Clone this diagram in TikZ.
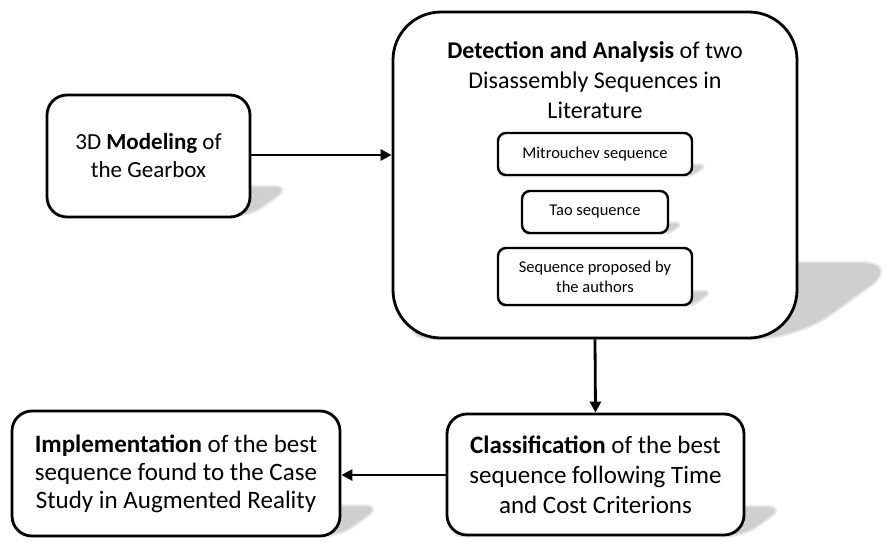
\documentclass[tikz,border=0pt]{standalone}
\usepackage{fontspec}
\setmainfont{Carlito}
\usetikzlibrary{arrows.meta}
\newcommand\pshadow[5]{% L T R B radius
  \fill[gray!38] [rounded corners=#5]
    (#1,#4) -- (#3,#4)
    -- ({#3+0.32*(#4-#2)},{#4-0.23*(#4-#2)})
    -- ({#1+0.32*(#4-#2)},{#4-0.23*(#4-#2)}) -- cycle;
  \draw[gray!38, line width=4pt, opacity=0.5] [rounded corners=#5]
    (#1,#4) -- (#3,#4)
    -- ({#3+0.32*(#4-#2)},{#4-0.23*(#4-#2)})
    -- ({#1+0.32*(#4-#2)},{#4-0.23*(#4-#2)}) -- cycle;
}
\tikzset{
  bigbox/.style={draw=black, line width=2.8pt, fill=white, rounded corners=20pt, inner sep=0pt, align=center, font=\fontsize{24}{29}\selectfont},
  smallbox/.style={draw=black, line width=2.4pt, fill=white, rounded corners=8pt, inner sep=0pt, align=center, font=\fontsize{16.5}{20}\selectfont},
  conn/.style={line width=2.8pt, -{Triangle[length=11pt, width=11pt]}}
}
\begin{document}
\begin{tikzpicture}[x=1pt, y=-1pt]
\useasboundingbox (0,0) rectangle (889,541);
% outer shadows
\pshadow{393}{12}{797}{338}{40pt}
\pshadow{47}{93}{250}{215}{15pt}
\pshadow{447}{414}{744}{535}{15pt}
\pshadow{12}{410}{340}{535}{15pt}
% main boxes
\node[bigbox, font=\fontsize{23}{28}\selectfont, minimum width=203pt, minimum height=122pt] (A) at (148.5,156) {3D \textbf{Modeling} of\\the Gearbox};
\node[bigbox, rounded corners=48pt, minimum width=404pt, minimum height=326pt] (B) at (595,175) {};
\node[align=center, inner sep=0pt, font=\fontsize{24}{30}\selectfont] (Btitle) at (595,80) {\textbf{Detection and Analysis} of two\\Disassembly Sequences in\\Literature};
\node[bigbox, font=\fontsize{25}{30}\selectfont, minimum width=297pt, minimum height=121pt] (C) at (595.5,474.5) {\textbf{Classification} of the best\\sequence following Time\\and Cost Criterions};
\node[bigbox, font=\fontsize{25}{28}\selectfont, minimum width=328pt, minimum height=125pt] (D) at (176,473.5) {\textbf{Implementation} of the best\\sequence found to the Case\\Study in Augmented Reality};
% inner shadows
\pshadow{498}{133}{692}{175}{6pt}
\pshadow{522}{191}{668}{233}{6pt}
\pshadow{498}{248}{692}{305}{6pt}
% inner boxes
\node[smallbox, minimum width=194pt, minimum height=42pt] (M) at (595,154) {Mitrouchev sequence};
\node[smallbox, minimum width=146pt, minimum height=42pt] (T) at (595,212) {Tao sequence};
\node[smallbox, minimum width=194pt, minimum height=57pt] (S) at (595,276.5) {Sequence proposed by\\the authors};
% connectors
\draw[conn] (A.east |- 0,155) -- (B.west |- 0,155);
\draw[conn] (B.south) -- (C.north);
\draw[conn] (C.west |- 0,475) -- (D.east |- 0,475);
\end{tikzpicture}
\end{document}
